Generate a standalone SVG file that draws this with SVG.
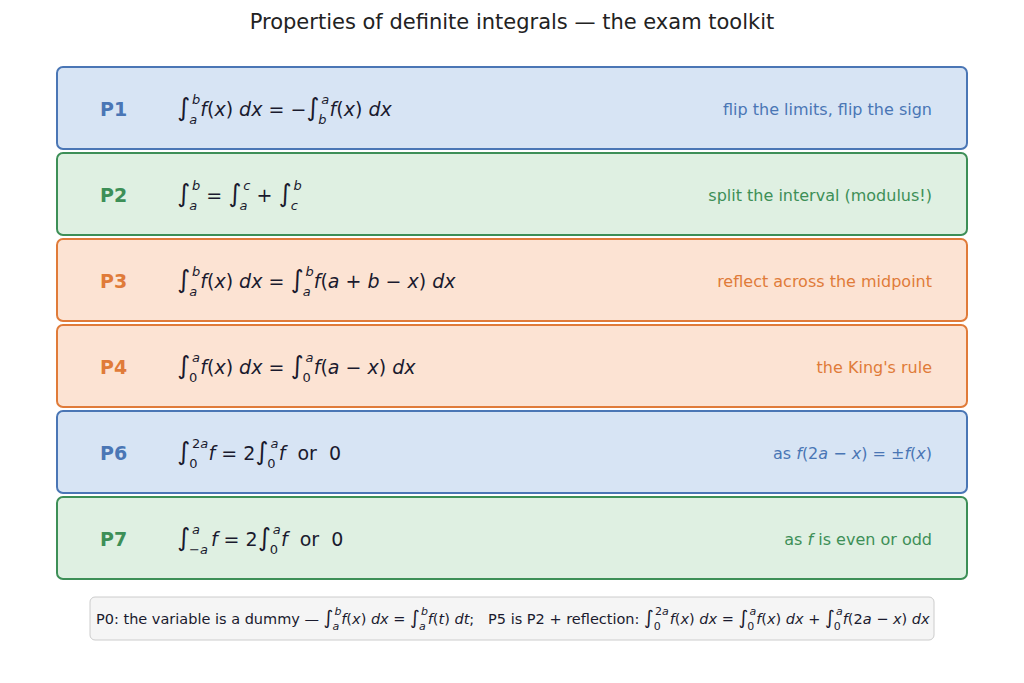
<svg xmlns="http://www.w3.org/2000/svg" width="1024" height="683" viewBox="0 0 1024 683">
<style>
text{font-family:"DejaVu Sans",sans-serif}
.box{stroke-width:2}
.b{fill:#d7e4f4;stroke:#4a76b5}
.g{fill:#dff0e2;stroke:#3d8f57}
.o{fill:#fce3d3;stroke:#e07b39}
.lab{font-size:19px;font-weight:bold}
.f{font-size:19px;fill:#1a1a2e}
.d{font-size:16px;text-anchor:end}
.l{font-size:13px;font-style:italic}
.n{font-size:13px}
.s{font-size:25px}
.i{font-style:italic}
.cb{fill:#4a76b5}.cg{fill:#3d8f57}.co{fill:#e07b39}
.ft{font-size:14.5px;fill:#1a1a2e}
.fl{font-size:11px}
.fi{font-size:19px}
</style>
<rect width="1024" height="683" fill="#fff"/>
<text x="512" y="29" text-anchor="middle" font-size="21" fill="#222">Properties of definite integrals — the exam toolkit</text>
<g id="P1"><rect class="box b" x="57" y="67" width="910" height="82" rx="6"/>
<text class="lab cb" x="100" y="116">P1</text>
<text class="f" x="177" y="116"><tspan class="s">∫</tspan><tspan class="l" dx="2" dy="-12">b</tspan><tspan class="l" dx="-11" dy="20">a</tspan><tspan dx="3" dy="-8" class="i">f</tspan>(<tspan class="i">x</tspan>) <tspan class="i">dx</tspan> = −<tspan class="s">∫</tspan><tspan class="l" dx="2" dy="-12">a</tspan><tspan class="l" dx="-11" dy="20">b</tspan><tspan dx="3" dy="-8" class="i">f</tspan>(<tspan class="i">x</tspan>) <tspan class="i">dx</tspan></text>
<text class="d cb" x="932" y="115">flip the limits, flip the sign</text></g>
<g id="P2"><rect class="box g" x="57" y="153" width="910" height="82" rx="6"/>
<text class="lab cg" x="100" y="202">P2</text>
<text class="f" x="177" y="202"><tspan class="s">∫</tspan><tspan class="l" dx="2" dy="-12">b</tspan><tspan class="l" dx="-11" dy="20">a</tspan><tspan dx="3" dy="-8"> = </tspan><tspan class="s">∫</tspan><tspan class="l" dx="2" dy="-12">c</tspan><tspan class="l" dx="-11" dy="20">a</tspan><tspan dx="3" dy="-8"> + </tspan><tspan class="s">∫</tspan><tspan class="l" dx="2" dy="-12">b</tspan><tspan class="l" dx="-11" dy="20">c</tspan></text>
<text class="d cg" x="932" y="201">split the interval (modulus!)</text></g>
<g id="P3"><rect class="box o" x="57" y="239" width="910" height="82" rx="6"/>
<text class="lab co" x="100" y="288">P3</text>
<text class="f" x="177" y="288"><tspan class="s">∫</tspan><tspan class="l" dx="2" dy="-12">b</tspan><tspan class="l" dx="-11" dy="20">a</tspan><tspan dx="3" dy="-8" class="i">f</tspan>(<tspan class="i">x</tspan>) <tspan class="i">dx</tspan> = <tspan class="s">∫</tspan><tspan class="l" dx="2" dy="-12">b</tspan><tspan class="l" dx="-11" dy="20">a</tspan><tspan dx="3" dy="-8" class="i">f</tspan>(<tspan class="i">a</tspan> + <tspan class="i">b</tspan> − <tspan class="i">x</tspan>) <tspan class="i">dx</tspan></text>
<text class="d co" x="932" y="287">reflect across the midpoint</text></g>
<g id="P4"><rect class="box o" x="57" y="325" width="910" height="82" rx="6"/>
<text class="lab co" x="100" y="374">P4</text>
<text class="f" x="177" y="374"><tspan class="s">∫</tspan><tspan class="l" dx="2" dy="-12">a</tspan><tspan class="n" dx="-11" dy="20">0</tspan><tspan dx="3" dy="-8" class="i">f</tspan>(<tspan class="i">x</tspan>) <tspan class="i">dx</tspan> = <tspan class="s">∫</tspan><tspan class="l" dx="2" dy="-12">a</tspan><tspan class="n" dx="-11" dy="20">0</tspan><tspan dx="3" dy="-8" class="i">f</tspan>(<tspan class="i">a</tspan> − <tspan class="i">x</tspan>) <tspan class="i">dx</tspan></text>
<text class="d co" x="932" y="373">the King's rule</text></g>
<g id="P6"><rect class="box b" x="57" y="411" width="910" height="82" rx="6"/>
<text class="lab cb" x="100" y="460">P6</text>
<text class="f" x="177" y="460" xml:space="preserve"><tspan class="s">∫</tspan><tspan class="n" dx="2" dy="-12">2<tspan class="i">a</tspan></tspan><tspan class="n" dx="-19" dy="20">0</tspan><tspan dx="11" dy="-8" class="i">f</tspan> = 2<tspan class="s">∫</tspan><tspan class="l" dx="2" dy="-12">a</tspan><tspan class="n" dx="-11" dy="20">0</tspan><tspan dx="3" dy="-8" class="i">f</tspan>  or  0</text>
<text class="d cb" x="932" y="459">as <tspan class="i">f</tspan>(2<tspan class="i">a</tspan> − <tspan class="i">x</tspan>) = ±<tspan class="i">f</tspan>(<tspan class="i">x</tspan>)</text></g>
<g id="P7"><rect class="box g" x="57" y="497" width="910" height="82" rx="6"/>
<text class="lab cg" x="100" y="546">P7</text>
<text class="f" x="177" y="546" xml:space="preserve"><tspan class="s">∫</tspan><tspan class="l" dx="2" dy="-12">a</tspan><tspan class="n" dx="-11" dy="20">−<tspan class="i">a</tspan></tspan><tspan dx="3" dy="-8" class="i">f</tspan> = 2<tspan class="s">∫</tspan><tspan class="l" dx="2" dy="-12">a</tspan><tspan class="n" dx="-11" dy="20">0</tspan><tspan dx="3" dy="-8" class="i">f</tspan>  or  0</text>
<text class="d cg" x="932" y="545">as <tspan class="i">f</tspan> is even or odd</text></g>
<g id="footer"><rect x="90" y="597" width="844" height="43" rx="5" fill="#f5f5f5" stroke="#cccccc"/>
<text class="ft" x="96" y="624" xml:space="preserve">P0: the variable is a dummy — <tspan class="fi">∫</tspan><tspan class="fl i" dx="1" dy="-9">b</tspan><tspan class="fl i" dx="-9" dy="15">a</tspan><tspan dx="2" dy="-6" class="i">f</tspan>(<tspan class="i">x</tspan>) <tspan class="i">dx</tspan> = <tspan class="fi">∫</tspan><tspan class="fl i" dx="1" dy="-9">b</tspan><tspan class="fl i" dx="-9" dy="15">a</tspan><tspan dx="2" dy="-6" class="i">f</tspan>(<tspan class="i">t</tspan>) <tspan class="i">dt</tspan>;   P5 is P2 + reflection: <tspan class="fi">∫</tspan><tspan class="fl" dx="1" dy="-9">2<tspan class="i">a</tspan></tspan><tspan class="fl" dx="-15" dy="15">0</tspan><tspan dx="9" dy="-6" class="i">f</tspan>(<tspan class="i">x</tspan>) <tspan class="i">dx</tspan> = <tspan class="fi">∫</tspan><tspan class="fl i" dx="1" dy="-9">a</tspan><tspan class="fl" dx="-9" dy="15">0</tspan><tspan dx="2" dy="-6" class="i">f</tspan>(<tspan class="i">x</tspan>) <tspan class="i">dx</tspan> + <tspan class="fi">∫</tspan><tspan class="fl i" dx="1" dy="-9">a</tspan><tspan class="fl" dx="-9" dy="15">0</tspan><tspan dx="2" dy="-6" class="i">f</tspan>(2<tspan class="i">a</tspan> − <tspan class="i">x</tspan>) <tspan class="i">dx</tspan></text></g>
</svg>
